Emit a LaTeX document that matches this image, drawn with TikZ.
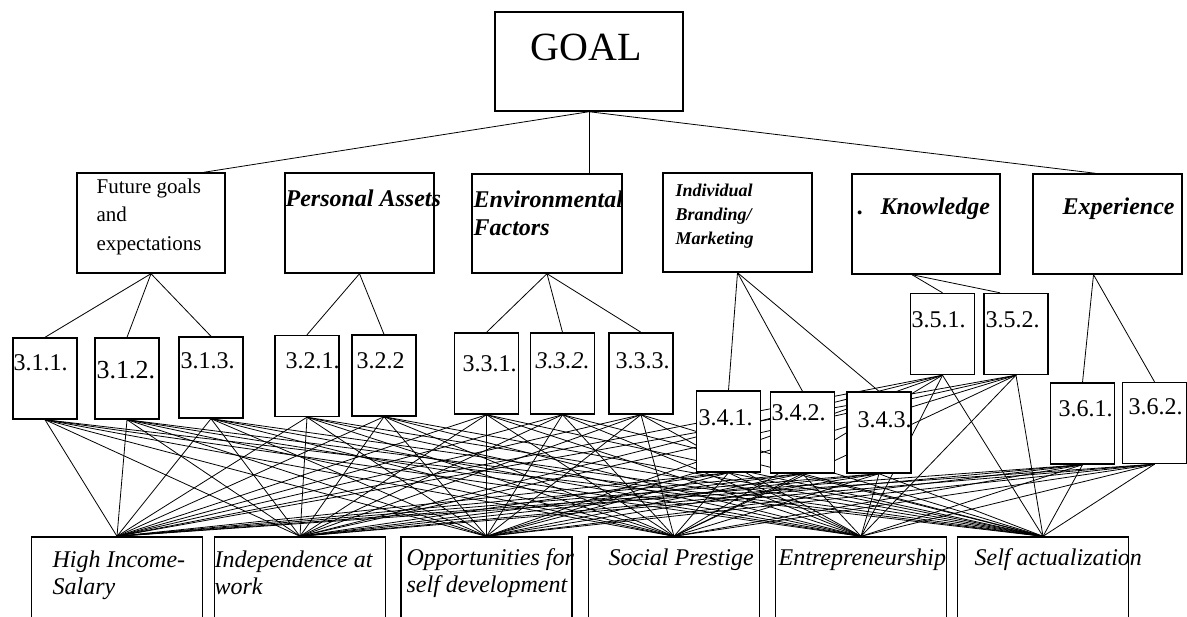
\documentclass[tikz,border=0pt]{standalone}
\usepackage{fontspec}
\setmainfont{Liberation Serif}
\usetikzlibrary{backgrounds}

\tikzset{
  box/.style={draw, fill=white, line width=0.7pt, inner sep=0pt},
  subbox/.style={box, minimum width=32pt, minimum height=40.5pt},
  altbox/.style={box, minimum width=85.5pt, minimum height=51.5pt},
  txt/.style={anchor=base west, inner sep=0pt, align=left},
  crittxt/.style={txt, font=\fontsize{12}{14}\selectfont\bfseries\itshape},
  subtxt/.style={txt, font=\fontsize{12}{14}\selectfont},
  alttxt/.style={txt, font=\fontsize{12}{13.5}\selectfont\itshape}
}

\begin{document}
\begin{tikzpicture}[x=0.5pt, y=-0.5pt, line width=0.6pt]
    \useasboundingbox (0,0) rectangle (1187,616);
    \node [box, minimum width=94pt, minimum height=49.5pt] (goal) at (589,61.5) {};
    \node [txt, font=\fontsize{20}{24}\selectfont] (goalt) at (530,60) {GOAL};

    \node [box, minimum width=74pt, minimum height=50pt] (fg) at (151,223) {};
    \node [box, minimum width=74.5pt, minimum height=50pt] (pa) at (359.5,223) {};
    \node [box, minimum width=75pt, minimum height=49.5pt] (ef) at (547,223.5) {};
    \node [box, minimum width=74.5pt, minimum height=49.5pt] (ib) at (737.5,222.5) {};
    \node [box, minimum width=74pt, minimum height=50pt] (kn) at (926,224) {};
    \node [box, minimum width=74.5pt, minimum height=50pt] (ex) at (1107.5,224) {};
    \node [txt, font=\fontsize{10.5}{14.25}\selectfont] (fgt) at (96,250) {Future goals\\and\\expectations};
    \node [crittxt] (pat) at (285,206) {Personal Assets};
    \node [crittxt] (eft) at (473,235) {Environmental\\Factors};
    \node [txt, font=\fontsize{9}{12}\selectfont\bfseries\itshape] (ibt) at (675,244) {Individual\\Branding/\\Marketing};
    \node [crittxt] (knt) at (857,214) {.\hspace{8.5pt}Knowledge};
    \node [crittxt] (ext) at (1062,214) {Experience};

    \node [subbox] (s11) at (45,378.5) {};
    \node [subbox] (s12) at (127,378.5) {};
    \node [subbox] (s13) at (211,377.5) {};
    \node [subbox] (s21) at (307,376) {};
    \node [subbox] (s22) at (384,375.5) {};
    \node [subbox] (s31) at (486.5,373.5) {};
    \node [subbox] (s32) at (562.5,373.5) {};
    \node [subbox] (s33) at (641,373.5) {};
    \node [subbox] (s41) at (728.5,431.5) {};
    \node [subbox] (s42) at (802.5,432.5) {};
    \node [subbox] (s43) at (879,432.5) {};
    \node [subbox] (s51) at (942.5,334) {};
    \node [subbox] (s52) at (1016,334) {};
    \node [subbox] (s61) at (1082.5,423.5) {};
    \node [subbox] (s62) at (1154.5,423) {};
    \node [subtxt] (s11t) at (13,370) {3.1.1.};
    \node [txt, font=\fontsize{13}{15}\selectfont] (s12t) at (96,378) {3.1.2.};
    \node [subtxt] (s13t) at (180,368) {3.1.3.};
    \node [subtxt] (s21t) at (285,368) {3.2.1.};
    \node [subtxt] (s22t) at (356,368) {3.2.2};
    \node [subtxt] (s31t) at (462,371) {3.3.1.};
    \node [subtxt, font=\fontsize{12}{14}\selectfont\itshape] (s32t) at (535,368) {3.3.2.};
    \node [subtxt] (s33t) at (615,368) {3.3.3.};
    \node [subtxt] (s41t) at (698,425) {3.4.1.};
    \node [subtxt] (s42t) at (771,420) {3.4.2.};
    \node [subtxt] (s43t) at (857,427) {3.4.3.};
    \node [subtxt] (s51t) at (911,327) {3.5.1.};
    \node [subtxt] (s52t) at (985,327) {3.5.2.};
    \node [subtxt] (s61t) at (1058,416) {3.6.1.};
    \node [subtxt] (s62t) at (1128,414) {3.6.2.};

    \node [altbox] (a1) at (117,588.5) {};
    \node [altbox] (a2) at (300,588.5) {};
    \node [altbox] (a3) at (486.5,588.5) {};
    \node [altbox] (a4) at (674,588.5) {};
    \node [altbox] (a5) at (861,588.5) {};
    \node [altbox] (a6) at (1043,588.5) {};
    \node [alttxt] (a1t) at (52,594) {High Income-\\Salary};
    \node [alttxt] (a2t) at (214,594) {Independence at\\work};
    \node [alttxt] (a3t) at (406,592) {Opportunities for\\self development};
    \node [alttxt] (a4t) at (608,565) {Social Prestige};
    \node [alttxt] (a5t) at (778,565) {Entrepreneurship};
    \node [alttxt] (a6t) at (974,565) {Self actualization};

    \begin{scope}[on background layer]
      \draw (goal.south) -- ([xshift=-11pt]fg.north east);
      \draw (goal.south) -- (goal.south |- ef.north);
      \draw (goal.south) -- ([xshift=-6pt]ex.north);
      \foreach \c/\s in {fg/s11,fg/s12,fg/s13,pa/s21,pa/s22,ef/s31,ef/s32,ef/s33,ib/s41,ib/s42,ib/s43}
        \draw (\c.south) -- (\s.north);
      \draw ([xshift=-7pt]kn.south) -- (s51.north);
      \draw ([xshift=-7pt]kn.south) -- ([xshift=-8pt]s52.north);
      \draw ([xshift=-7pt]ex.south) -- (s61.north);
      \draw ([xshift=-7pt]ex.south) -- (s62.north);
      \foreach \s in {s11,s12,s13,s21,s22,s31,s32,s33,s41,s42,s43,s51,s52,s61,s62}
        \foreach \a in {a1,a2,a3,a4,a5,a6}
          \draw (\s.south) -- (\a.north);
    \end{scope}
\end{tikzpicture}
\end{document}
